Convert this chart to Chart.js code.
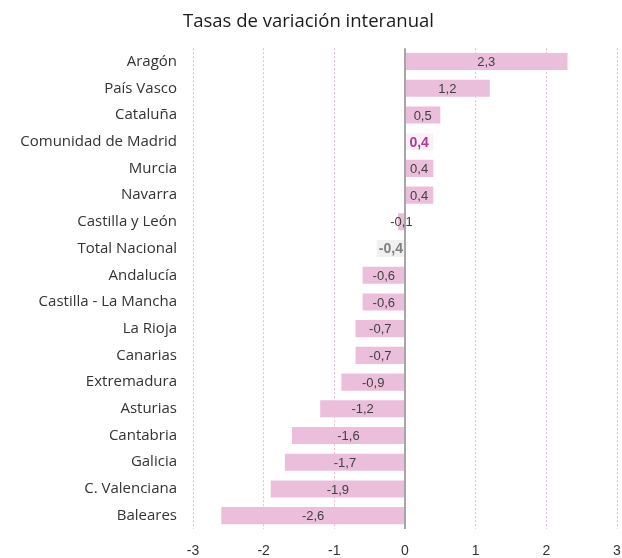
<!DOCTYPE html>
<html>
<head>
<meta charset="utf-8">
<style>
  html, body { margin: 0; padding: 0; background: #fff; }
</style>
</head>
<body>
<canvas id="chart" width="622" height="558"></canvas>

<script src="https://cdn.jsdelivr.net/npm/chart.js"></script>

<script>
  const regions = ['Aragón', 'País Vasco', 'Cataluña', 'Comunidad de Madrid', 'Murcia', 'Navarra',
    'Castilla y León', 'Total Nacional', 'Andalucía', 'Castilla - La Mancha', 'La Rioja', 'Canarias',
    'Extremadura', 'Asturias', 'Cantabria', 'Galicia', 'C. Valenciana', 'Baleares']
  const rates = [2.3, 1.2, 0.5, 0.4, 0.4, 0.4, -0.1, -0.4, -0.6, -0.6, -0.7, -0.7, -0.9, -1.2, -1.6, -1.7, -1.9, -2.6]
  const xTicks = [-3, -2, -1, 0, 1, 2, 3]

  function barColor(name) {
    if (name === 'Comunidad de Madrid')
      return '#fcf0f7'
    if (name === 'Total Nacional')
      return '#f0f0f0'
    return '#ebbfdb'
  }

  function labelStyle(name) {
    if (name === 'Comunidad de Madrid')
      return { font: 'bold 14px Arial, "Liberation Sans"', color: '#b5398f' }
    if (name === 'Total Nacional')
      return { font: 'bold 14px Arial, "Liberation Sans"', color: '#7f7f7f' }
    return { font: '13px Arial, "Liberation Sans"', color: '#404040' }
  }

  // values written in the middle of each bar, with a decimal comma
  const barLabels = {
    id: 'barLabels',
    afterDatasetsDraw(chart) {
      const ctx = chart.ctx
      const meta = chart.getDatasetMeta(0)
      const xs = chart.scales.x
      ctx.save()
      ctx.textAlign = 'center'
      ctx.textBaseline = 'middle'
      meta.data.forEach((bar, i) => {
        const st = labelStyle(regions[i])
        const mid = xs.getPixelForValue(rates[i] / 2)
        ctx.font = st.font
        ctx.fillStyle = st.color
        ctx.fillText(rates[i].toFixed(1).replace('.', ','), mid, bar.y + 1)
      })
      ctx.restore()
    }
  }

  const isZero = ctx => ctx.tick && ctx.tick.value === 0

  new Chart(document.getElementById('chart'), {
    type: 'bar',
    data: {
      labels: regions,
      datasets: [{
        data: rates,
        backgroundColor: regions.map(barColor),
        borderWidth: 0,
        categoryPercentage: 1,
        barPercentage: 0.64
      }]
    },
    options: {
      indexAxis: 'y',
      responsive: false,
      animation: false,
      layout: { padding: { left: 0, right: 5, top: 0, bottom: 0 } },
      plugins: {
        legend: { display: false },
        tooltip: { enabled: false },
        title: {
          display: true,
          text: 'Tasas de variación interanual',
          color: '#1a1a1a',
          font: { family: '"Open Sans", "Noto Sans"', size: 18.5, weight: 'normal' },
          padding: { top: 11, bottom: 15 }
        }
      },
      scales: {
        x: {
          min: -3,
          max: 3,
          afterBuildTicks: axis => { axis.ticks = xTicks.map(v => ({ value: v })) },
          afterFit: axis => {
            axis.paddingLeft = 0
            axis.paddingRight = 0
            axis.height = 29
          },
          grid: {
            drawTicks: false,
            color: ctx => isZero(ctx) ? '#a6a6a6' : '#e9b9d7',
            lineWidth: ctx => isZero(ctx) ? 2 : 1
          },
          border: {
            display: false,
            dash: ctx => isZero(ctx) ? [] : [2, 2]
          },
          ticks: {
            padding: 14,
            maxRotation: 0,
            color: '#333',
            font: { family: 'Arial, "Liberation Sans"', size: 14 }
          }
        },
        y: {
          afterFit: axis => { axis.width = 193 },
          grid: { display: false, drawTicks: false },
          border: { display: false },
          ticks: {
            padding: 16,
            autoSkip: false,
            color: '#333',
            font: { family: '"Open Sans", "Noto Sans"', size: 15 }
          }
        }
      }
    },
    plugins: [barLabels]
  })
</script>
</body>
</html>
